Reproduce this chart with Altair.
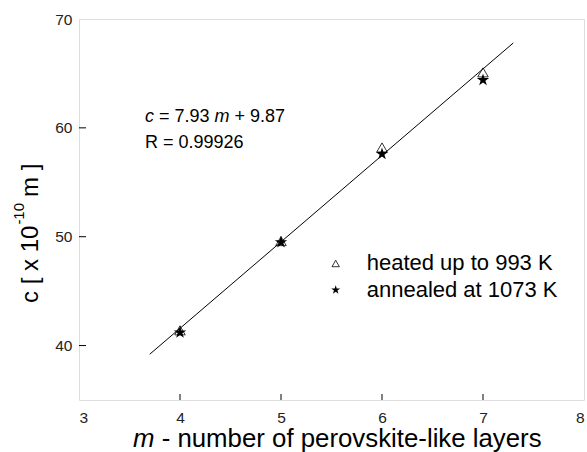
import altair as alt
import pandas as pd

# ---- data ----
m_values = [4, 5, 6, 7]
heated_c = [41.4, 49.6, 58.2, 65.1]
annealed_c = [41.2, 49.5, 57.6, 64.4]
series_names = ["heated up to 993 K", "annealed at 1073 K"]
fit_m = [3.7, 7.3]
fit_c = [39.2, 67.8]
x_tick_labels = [3, 4, 5, 6, 7, 8]
y_tick_labels = [40, 50, 60, 70]
x_inner_ticks = [4, 5, 6, 7]
y_inner_ticks = [40, 50, 60]
eq_parts = ["c", "= 7.93", "m", "+ 9.87"]
r_text = ["R = 0.99926"]
x_title_parts = ["m", "- number of perovskite-like layers"]
y_title_parts = ["c [ x 10", "-10", "m ]"]

FONT = "Liberation Sans"
STAR = ("M0,-1L0.2245,-0.309L0.9511,-0.309L0.3633,0.118L0.5878,0.809L0,0.382"
        "L-0.5878,0.809L-0.3633,0.118L-0.9511,-0.309L-0.2245,-0.309Z")

W, H = 505, 381

x_enc = alt.X("m:Q", scale=alt.Scale(domain=[3, 8], nice=False, zero=False),
              axis=alt.Axis(values=x_tick_labels, ticks=False, domain=False, grid=False,
                            title=None, labelPadding=10, labelFontSize=15.5, labelFont=FONT,
                            labelColor="#222222", labelOverlap=False))
y_enc = alt.Y("c:Q", scale=alt.Scale(domain=[35, 70], nice=False, zero=False),
              axis=alt.Axis(values=y_tick_labels, ticks=False, domain=False, grid=False,
                            title=None, labelPadding=7, labelFontSize=15.5, labelFont=FONT,
                            labelColor="#222222", labelOverlap=False))

df_heated = pd.DataFrame({"m": m_values, "c": heated_c})
df_annealed = pd.DataFrame({"m": m_values, "c": annealed_c})
df_fit = pd.DataFrame({"m": fit_m, "c": fit_c})

fit_line = alt.Chart(df_fit).mark_line(color="black", strokeWidth=1).encode(x=x_enc, y=y_enc)
tri = alt.Chart(df_heated).mark_point(shape="triangle-up", filled=False, stroke="black",
                                      strokeWidth=0.8, size=110, opacity=1).encode(x=x_enc, y=y_enc)
star = alt.Chart(df_annealed).mark_point(shape=STAR, filled=True, color="black",
                                         size=170, opacity=1).encode(x=x_enc, y=y_enc)

xt = alt.Chart(pd.DataFrame({"m": x_inner_ticks})).mark_rule(color="black", strokeWidth=1).encode(
    x=x_enc, y=alt.value(H), y2=alt.value(H - 6))
yt = alt.Chart(pd.DataFrame({"c": y_inner_ticks})).mark_rule(color="black", strokeWidth=1).encode(
    y=y_enc, x=alt.value(0), x2=alt.value(7))


def txt(s, x, y, size, italic=False, angle=0):
    return alt.Chart(pd.DataFrame({"t": [s]})).mark_text(
        align="left", baseline="alphabetic", font=FONT, fontSize=size, color="black",
        fontStyle="italic" if italic else "normal", angle=angle
    ).encode(x=alt.value(x), y=alt.value(y), text="t:N")


# equation (Arial/Liberation advance widths in em)
es = 18
ex = 66
eq = [
    txt(eq_parts[0], ex, 102.7, es, italic=True),
    txt(eq_parts[1], ex + 0.778 * es, 102.7, es),
    txt(eq_parts[2], ex + 3.864 * es, 102.7, es, italic=True),
    txt(eq_parts[3], ex + 4.975 * es, 102.7, es),
    txt(r_text[0], ex, 129.3, es),
]

# legend
leg_tri = alt.Chart(pd.DataFrame({"k": [series_names[0]]})).mark_point(
    shape="triangle-up", filled=False, stroke="black", strokeWidth=0.8, size=55, opacity=1
).encode(x=alt.value(256.7), y=alt.value(244.5))
leg_star = alt.Chart(pd.DataFrame({"k": [series_names[1]]})).mark_point(
    shape=STAR, filled=True, color="black", size=90, opacity=1
).encode(x=alt.value(256.7), y=alt.value(271))
leg = [leg_tri, leg_star,
       txt(series_names[0], 287.7, 251, 22),
       txt(series_names[1], 287.7, 277.7, 22)]

# axis titles
xs = 25.8
x_title = [txt(x_title_parts[0], 54, 428, xs, italic=True),
           txt(x_title_parts[1], 54 + 1.111 * xs, 428, xs)]
ys = 24
y_title = [txt(y_title_parts[0], -41, 284, ys, angle=270),
           txt(y_title_parts[1], -55, 284 - 3.224 * ys - 1, 15, angle=270),
           txt(y_title_parts[2], -41, 178, ys, angle=270)]

chart = alt.layer(xt, yt, fit_line, tri, star, *eq, *leg, *x_title, *y_title).properties(
    width=W, height=H,
    autosize=alt.AutoSizeParams(type="none"),
    padding={"left": 79, "top": 19, "right": 3, "bottom": 52},
).configure_view(stroke="black", strokeWidth=1.2).configure(font=FONT)

chart.save("out.html", embed_options={"renderer": "svg", "actions": False})
